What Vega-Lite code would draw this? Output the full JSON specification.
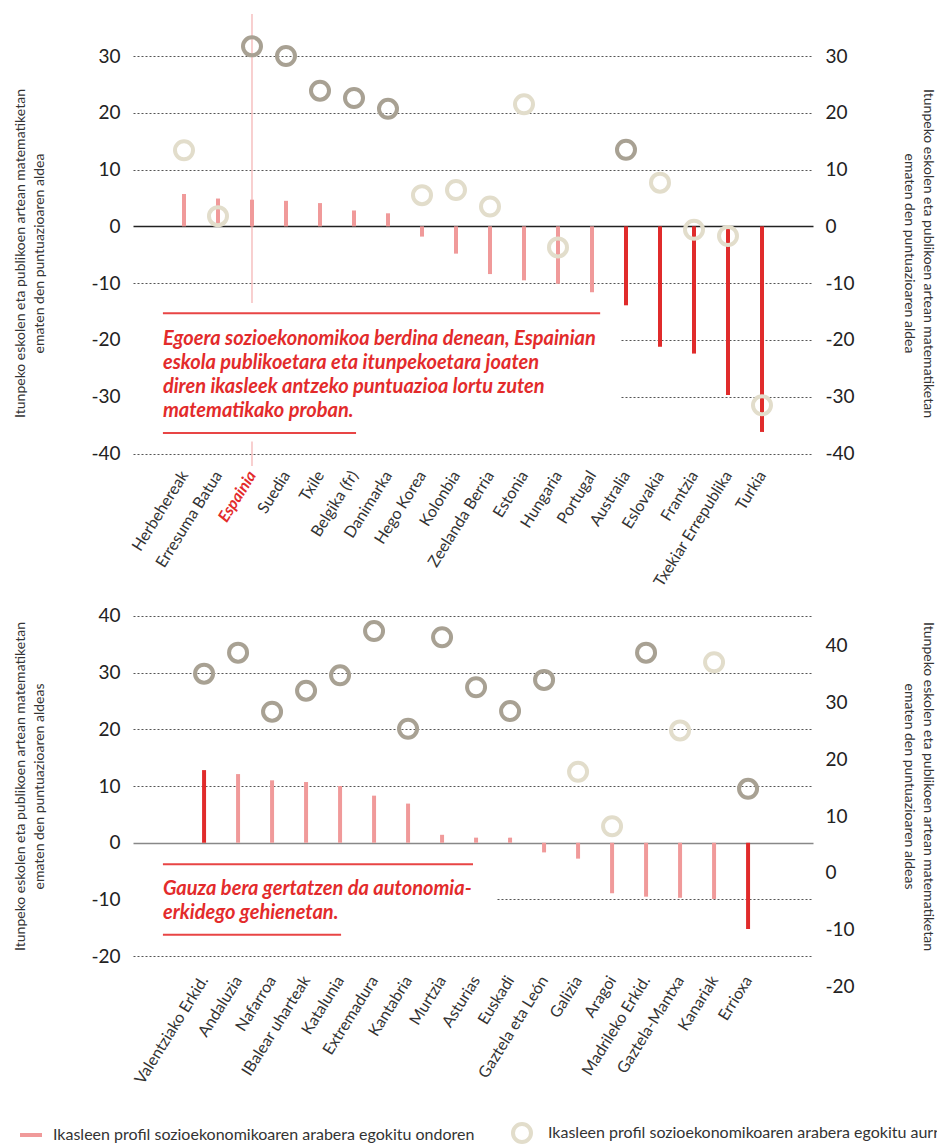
{
  "$schema": "https://vega.github.io/schema/vega-lite/v6.json",
  "background": "white",
  "padding": {"left": 13, "top": 13, "right": 0, "bottom": 0},
  "spacing": 11,
  "datasets": {
    "paisak": [
      {"i": 1, "izena": "Herbehereak", "ondoren": 5.7, "aurretik": 13.4, "ond_sig": "ez", "aur_sig": "ez"},
      {"i": 2, "izena": "Erresuma Batua", "ondoren": 4.9, "aurretik": 1.8, "ond_sig": "ez", "aur_sig": "ez"},
      {"i": 3, "izena": "Espainia", "ondoren": 4.7, "aurretik": 31.7, "ond_sig": "ez", "aur_sig": "bai"},
      {"i": 4, "izena": "Suedia", "ondoren": 4.5, "aurretik": 30.0, "ond_sig": "ez", "aur_sig": "bai"},
      {"i": 5, "izena": "Txile", "ondoren": 4.1, "aurretik": 23.9, "ond_sig": "ez", "aur_sig": "bai"},
      {"i": 6, "izena": "Belgika (fr)", "ondoren": 2.8, "aurretik": 22.6, "ond_sig": "ez", "aur_sig": "bai"},
      {"i": 7, "izena": "Danimarka", "ondoren": 2.3, "aurretik": 20.7, "ond_sig": "ez", "aur_sig": "bai"},
      {"i": 8, "izena": "Hego Korea", "ondoren": -1.8, "aurretik": 5.5, "ond_sig": "ez", "aur_sig": "ez"},
      {"i": 9, "izena": "Kolonbia", "ondoren": -4.8, "aurretik": 6.4, "ond_sig": "ez", "aur_sig": "ez"},
      {"i": 10, "izena": "Zeelanda Berria", "ondoren": -8.4, "aurretik": 3.5, "ond_sig": "ez", "aur_sig": "ez"},
      {"i": 11, "izena": "Estonia", "ondoren": -9.5, "aurretik": 21.5, "ond_sig": "ez", "aur_sig": "ez"},
      {"i": 12, "izena": "Hungaria", "ondoren": -10.1, "aurretik": -3.7, "ond_sig": "ez", "aur_sig": "ez"},
      {"i": 13, "izena": "Portugal", "ondoren": -11.6, "aurretik": null, "ond_sig": "ez", "aur_sig": null},
      {"i": 14, "izena": "Australia", "ondoren": -13.9, "aurretik": 13.5, "ond_sig": "bai", "aur_sig": "bai"},
      {"i": 15, "izena": "Eslovakia", "ondoren": -21.2, "aurretik": 7.7, "ond_sig": "bai", "aur_sig": "ez"},
      {"i": 16, "izena": "Frantzia", "ondoren": -22.4, "aurretik": -0.6, "ond_sig": "bai", "aur_sig": "ez"},
      {"i": 17, "izena": "Txekiar Errepublika", "ondoren": -29.7, "aurretik": -1.7, "ond_sig": "bai", "aur_sig": "ez"},
      {"i": 18, "izena": "Turkia", "ondoren": -36.2, "aurretik": -31.5, "ond_sig": "bai", "aur_sig": "ez"}
    ],
    "erkidegoak": [
      {"i": 1, "izena": "Valentziako Erkid.", "ondoren": 12.8, "aurretik": 29.8, "ond_sig": "bai", "aur_sig": "bai"},
      {"i": 2, "izena": "Andaluzia", "ondoren": 12.1, "aurretik": 33.5, "ond_sig": "ez", "aur_sig": "bai"},
      {"i": 3, "izena": "Nafarroa", "ondoren": 11.0, "aurretik": 23.1, "ond_sig": "ez", "aur_sig": "bai"},
      {"i": 4, "izena": "IBalear uharteak", "ondoren": 10.7, "aurretik": 26.8, "ond_sig": "ez", "aur_sig": "bai"},
      {"i": 5, "izena": "Katalunia", "ondoren": 10.0, "aurretik": 29.5, "ond_sig": "ez", "aur_sig": "bai"},
      {"i": 6, "izena": "Extremadura", "ondoren": 8.3, "aurretik": 37.3, "ond_sig": "ez", "aur_sig": "bai"},
      {"i": 7, "izena": "Kantabria", "ondoren": 6.9, "aurretik": 20.1, "ond_sig": "ez", "aur_sig": "bai"},
      {"i": 8, "izena": "Murtzia", "ondoren": 1.4, "aurretik": 36.2, "ond_sig": "ez", "aur_sig": "bai"},
      {"i": 9, "izena": "Asturias", "ondoren": 0.9, "aurretik": 27.4, "ond_sig": "ez", "aur_sig": "bai"},
      {"i": 10, "izena": "Euskadi", "ondoren": 0.9, "aurretik": 23.2, "ond_sig": "ez", "aur_sig": "bai"},
      {"i": 11, "izena": "Gaztela eta León", "ondoren": -1.7, "aurretik": 28.7, "ond_sig": "ez", "aur_sig": "bai"},
      {"i": 12, "izena": "Galizia", "ondoren": -2.8, "aurretik": 12.5, "ond_sig": "ez", "aur_sig": "ez"},
      {"i": 13, "izena": "Aragoi", "ondoren": -8.9, "aurretik": 2.9, "ond_sig": "ez", "aur_sig": "ez"},
      {"i": 14, "izena": "Madrileko Erkid.", "ondoren": -9.5, "aurretik": 33.5, "ond_sig": "ez", "aur_sig": "bai"},
      {"i": 15, "izena": "Gaztela-Mantxa", "ondoren": -9.7, "aurretik": 19.8, "ond_sig": "ez", "aur_sig": "ez"},
      {"i": 16, "izena": "Kanariak", "ondoren": -9.9, "aurretik": 31.8, "ond_sig": "ez", "aur_sig": "ez"},
      {"i": 17, "izena": "Errioxa", "ondoren": -15.2, "aurretik": 9.5, "ond_sig": "bai", "aur_sig": "bai"}
    ]
  },
  "vconcat": [
    {
      "width": 680,
      "height": 452,
      "data": {"name": "paisak"},
      "layer": [
        {
          "data": {"values": [{}]},
          "mark": {"type": "rule", "color": "#f4b0b0", "strokeWidth": 1.2},
          "encoding": {
            "x": {"datum": 3, "type": "quantitative", "scale": {"domain": [-0.5, 19.5], "nice": false, "zero": false}, "axis": null},
            "y": {"datum": 37.4, "type": "quantitative", "scale": {"domain": [-42.2, 37.4], "nice": false, "zero": false}, "axis": null},
            "y2": {"datum": -42.2}
          }
        },
        {
          "data": {"values": [{}]},
          "mark": {"type": "rect", "fill": "white"},
          "encoding": {
            "x": {"datum": -0.5, "type": "quantitative", "axis": null},
            "x2": {"datum": 13.85},
            "y": {"datum": -13.5, "type": "quantitative", "axis": null},
            "y2": {"datum": -37.9}
          }
        },
        {
          "mark": {"type": "rule", "strokeWidth": 4},
          "encoding": {
            "x": {
              "field": "i", "type": "quantitative",
              "axis": {
                "values": [1,2,3,4,5,6,7,8,9,10,11,12,13,14,15,16,17,18],
                "labelExpr": "['Herbehereak','Erresuma Batua','Espainia','Suedia','Txile','Belgika (fr)','Danimarka','Hego Korea','Kolonbia','Zeelanda Berria','Estonia','Hungaria','Portugal','Australia','Eslovakia','Frantzia','Txekiar Errepublika','Turkia'][datum.value-1]",
                "domain": false, "ticks": false, "grid": false, "title": null,
                "labelAngle": -58, "labelAlign": "right", "labelBaseline": "middle",
                "labelFont": "Lato", "labelFontSize": 16,
                "labelColor": {"condition": {"test": "datum.value === 3", "value": "#e32b2b"}, "value": "#333333"},
                "labelFontWeight": {"condition": {"test": "datum.value === 3", "value": "bold"}, "value": "normal"},
                "labelFontStyle": {"condition": {"test": "datum.value === 3", "value": "italic"}, "value": "normal"},
                "labelPadding": 6, "labelOverlap": false, "labelFlush": false, "labelBound": false
              }
            },
            "y": {
              "field": "ondoren", "type": "quantitative",
              "axis": {
                "orient": "left",
                "values": [-40,-30,-20,-10,0,10,20,30],
                "labelExpr": "'' + datum.value",
                "grid": true,
                "gridColor": {"condition": {"test": "datum.value === 0", "value": "#222222"}, "value": "#555555"},
                "gridDash": {"condition": {"test": "datum.value === 0", "value": []}, "value": [2,2]},
                "gridWidth": {"condition": {"test": "datum.value === 0", "value": 1.5}, "value": 1},
                "domain": false, "ticks": false,
                "labelFont": "Lato", "labelFontSize": 19, "labelColor": "#222222", "labelPadding": 13,
                "title": ["Itunpeko eskolen eta publikoen artean matematiketan", "ematen den puntuazioaren aldea"],
                "titleFont": "Lato", "titleFontSize": 14, "titleFontWeight": "normal", "titleColor": "#333333",
                "titleLineHeight": 19, "titlePadding": 44, "titleY": 239
              }
            },
            "y2": {"datum": 0},
            "color": {
              "field": "ond_sig", "type": "nominal",
              "scale": {"domain": ["ez", "bai"], "range": ["#f09a9a", "#e02b2b"]},
              "legend": {
                "orient": "none", "legendX": -115, "legendY": 1108, "values": ["ez"], "title": null,
                "labelExpr": "'Ikasleen profil sozioekonomikoaren arabera egokitu ondoren'",
                "symbolType": "M-1,0H1", "symbolSize": 484, "symbolStrokeWidth": 4,
                "labelFont": "Lato", "labelFontSize": 16, "labelColor": "#333333", "labelOffset": 9, "labelLimit": 1000
              }
            }
          }
        },
        {
          "mark": {"type": "point", "shape": "circle", "filled": false, "strokeWidth": 4, "size": 324, "opacity": 1},
          "encoding": {
            "x": {"field": "i", "type": "quantitative", "axis": null},
            "y": {
              "field": "aurretik", "type": "quantitative",
              "axis": {
                "orient": "right",
                "values": [-40,-30,-20,-10,0,10,20,30],
                "labelExpr": "'' + datum.value",
                "grid": false, "domain": false, "ticks": false,
                "labelFont": "Lato", "labelFontSize": 19, "labelColor": "#222222", "labelPadding": 12,
                "title": ["Itunpeko eskolen eta publikoen artean matematiketan", "ematen den puntuazioaren aldea"],
                "titleFont": "Lato", "titleFontSize": 14, "titleFontWeight": "normal", "titleColor": "#333333",
                "titleLineHeight": 19, "titlePadding": 47, "titleY": 239
              }
            },
            "stroke": {
              "field": "aur_sig", "type": "nominal",
              "scale": {"domain": ["bai", "ez"], "range": ["#a8a193", "#e2ddcb"]},
              "legend": {
                "orient": "none", "legendX": 378, "legendY": 1108, "values": ["ez"], "title": null,
                "labelExpr": "'Ikasleen profil sozioekonomikoaren arabera egokitu aurretik'",
                "symbolType": "circle", "symbolSize": 324, "symbolStrokeWidth": 4, "symbolFillColor": "transparent",
                "labelFont": "Lato", "labelFontSize": 16, "labelColor": "#333333", "labelOffset": 15, "labelLimit": 1000
              }
            }
          }
        },
        {
          "data": {"values": [{}]},
          "mark": {"type": "text", "align": "left", "baseline": "alphabetic", "font": "Lato", "fontSize": 20, "fontWeight": "bold", "fontStyle": "italic", "color": "#e32b2b", "lineHeight": 24,
            "text": ["Egoera sozioekonomikoa berdina denean, Espainian", "eskola publikoetara eta itunpekoetara joaten", "diren ikasleek antzeko puntuazioa lortu zuten", "matematikako proban."]},
          "encoding": {
            "x": {"datum": 0.38, "type": "quantitative", "axis": null},
            "y": {"datum": -20.9, "type": "quantitative", "axis": null}
          }
        },
        {
          "data": {"values": [{}]},
          "mark": {"type": "rule", "color": "#e84545", "strokeWidth": 2},
          "encoding": {
            "x": {"datum": 0.38, "type": "quantitative", "axis": null},
            "x2": {"datum": 13.24},
            "y": {"datum": -15.3, "type": "quantitative", "axis": null}
          }
        },
        {
          "data": {"values": [{}]},
          "mark": {"type": "rule", "color": "#e84545", "strokeWidth": 2},
          "encoding": {
            "x": {"datum": 0.38, "type": "quantitative", "axis": null},
            "x2": {"datum": 6.06},
            "y": {"datum": -36.4, "type": "quantitative", "axis": null}
          }
        }
      ],
      "resolve": {"axis": {"x": "independent", "y": "independent"}}
    },
    {
      "width": 680,
      "height": 370,
      "data": {"name": "erkidegoak"},
      "layer": [
        {
          "data": {"values": [{}]},
          "mark": {"type": "rect", "fill": "white"},
          "encoding": {
            "x": {"datum": -1.09, "type": "quantitative", "scale": {"domain": [-1.09, 18.91], "nice": false, "zero": false}, "axis": null},
            "x2": {"datum": 9.59},
            "y": {"datum": -2, "type": "quantitative", "scale": {"domain": [-22.6, 42.6], "nice": false, "zero": false}, "axis": null},
            "y2": {"datum": -18}
          }
        },
        {
          "mark": {"type": "rule", "strokeWidth": 4},
          "encoding": {
            "x": {
              "field": "i", "type": "quantitative",
              "axis": {
                "values": [1,2,3,4,5,6,7,8,9,10,11,12,13,14,15,16,17],
                "labelExpr": "['Valentziako Erkid.','Andaluzia','Nafarroa','IBalear uharteak','Katalunia','Extremadura','Kantabria','Murtzia','Asturias','Euskadi','Gaztela eta León','Galizia','Aragoi','Madrileko Erkid.','Gaztela-Mantxa','Kanariak','Errioxa'][datum.value-1]",
                "domain": false, "ticks": false, "grid": false, "title": null,
                "labelAngle": -58, "labelAlign": "right", "labelBaseline": "middle",
                "labelFont": "Lato", "labelFontSize": 16, "labelColor": "#333333",
                "labelPadding": 6, "labelOverlap": false, "labelFlush": false, "labelBound": false
              }
            },
            "y": {
              "field": "ondoren", "type": "quantitative",
              "axis": {
                "orient": "left",
                "values": [-20,-10,0,10,20,30,40],
                "labelExpr": "'' + datum.value",
                "grid": true,
                "gridColor": {"condition": {"test": "datum.value === 0", "value": "#888888"}, "value": "#555555"},
                "gridDash": {"condition": {"test": "datum.value === 0", "value": []}, "value": [2,2]},
                "gridWidth": {"condition": {"test": "datum.value === 0", "value": 1.5}, "value": 1},
                "domain": false, "ticks": false,
                "labelFont": "Lato", "labelFontSize": 19, "labelColor": "#222222", "labelPadding": 13,
                "title": ["Itunpeko eskolen eta publikoen artean matematiketan", "ematen den puntuazioaren aldeas"],
                "titleFont": "Lato", "titleFontSize": 14, "titleFontWeight": "normal", "titleColor": "#333333",
                "titleLineHeight": 19, "titlePadding": 44
              }
            },
            "y2": {"datum": 0},
            "color": {
              "field": "ond_sig", "type": "nominal",
              "scale": {"domain": ["ez", "bai"], "range": ["#f09a9a", "#e02b2b"]},
              "legend": {
                "orient": "none", "legendX": -115, "legendY": 1108, "values": ["ez"], "title": null,
                "labelExpr": "'Ikasleen profil sozioekonomikoaren arabera egokitu ondoren'",
                "symbolType": "M-1,0H1", "symbolSize": 484, "symbolStrokeWidth": 4,
                "labelFont": "Lato", "labelFontSize": 16, "labelColor": "#333333", "labelOffset": 9, "labelLimit": 1000
              }
            }
          }
        },
        {
          "mark": {"type": "point", "shape": "circle", "filled": false, "strokeWidth": 4, "size": 324, "opacity": 1},
          "encoding": {
            "x": {"field": "i", "type": "quantitative", "axis": null},
            "y": {
              "field": "aurretik", "type": "quantitative",
              "axis": {
                "orient": "right",
                "values": [-20,-10,0,10,20,30,40],
                "labelExpr": "'' + datum.value",
                "grid": false, "domain": false, "ticks": false,
                "labelFont": "Lato", "labelFontSize": 19, "labelColor": "#222222", "labelPadding": 12, "labelOffset": 30,
                "title": ["Itunpeko eskolen eta publikoen artean matematiketan", "ematen den puntuazioaren aldeas"],
                "titleFont": "Lato", "titleFontSize": 14, "titleFontWeight": "normal", "titleColor": "#333333",
                "titleLineHeight": 19, "titlePadding": 47
              }
            },
            "stroke": {
              "field": "aur_sig", "type": "nominal",
              "scale": {"domain": ["bai", "ez"], "range": ["#a8a193", "#e2ddcb"]},
              "legend": {
                "orient": "none", "legendX": 378, "legendY": 1108, "values": ["ez"], "title": null,
                "labelExpr": "'Ikasleen profil sozioekonomikoaren arabera egokitu aurretik'",
                "symbolType": "circle", "symbolSize": 324, "symbolStrokeWidth": 4, "symbolFillColor": "transparent",
                "labelFont": "Lato", "labelFontSize": 16, "labelColor": "#333333", "labelOffset": 15, "labelLimit": 1000
              }
            }
          }
        },
        {
          "data": {"values": [{}]},
          "mark": {"type": "text", "align": "left", "baseline": "alphabetic", "font": "Lato", "fontSize": 20, "fontWeight": "bold", "fontStyle": "italic", "color": "#e32b2b", "lineHeight": 24,
            "text": ["Gauza bera gertatzen da autonomia-", "erkidego gehienetan."]},
          "encoding": {
            "x": {"datum": -0.21, "type": "quantitative", "axis": null},
            "y": {"datum": -9.2, "type": "quantitative", "axis": null}
          }
        },
        {
          "data": {"values": [{}]},
          "mark": {"type": "rule", "color": "#e84545", "strokeWidth": 2},
          "encoding": {
            "x": {"datum": -0.21, "type": "quantitative", "axis": null},
            "x2": {"datum": 8.91},
            "y": {"datum": -3.8, "type": "quantitative", "axis": null}
          }
        },
        {
          "data": {"values": [{}]},
          "mark": {"type": "rule", "color": "#e84545", "strokeWidth": 2},
          "encoding": {
            "x": {"datum": -0.21, "type": "quantitative", "axis": null},
            "x2": {"datum": 5.03},
            "y": {"datum": -16.2, "type": "quantitative", "axis": null}
          }
        }
      ],
      "resolve": {"axis": {"x": "independent", "y": "independent"}}
    }
  ],
  "config": {
    "view": {"stroke": null},
    "font": "Lato"
  }
}
